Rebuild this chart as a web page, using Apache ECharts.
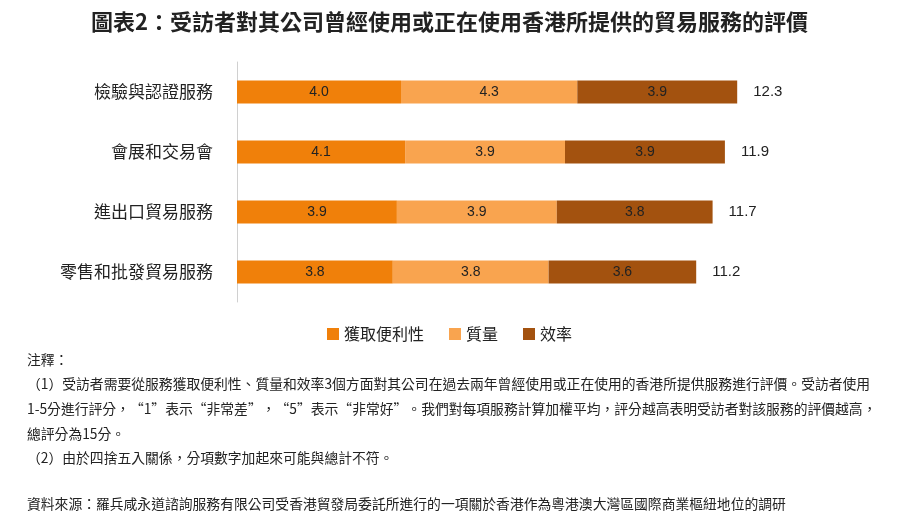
<!DOCTYPE html>
<html><head><meta charset="utf-8">
<script src="https://cdn.jsdelivr.net/npm/echarts@6/dist/echarts.min.js"></script>
<style>html,body{margin:0;background:#fff}#chart{width:899px;height:524px}</style>
</head><body><div id="chart"></div>
<script>
var categories = ['檢驗與認證服務', '會展和交易會', '進出口貿易服務', '零售和批發貿易服務'];
var convenience = [4.0, 4.1, 3.9, 3.8];
var quality = [4.3, 3.9, 3.9, 3.8];
var efficiency = [3.9, 3.9, 3.8, 3.6];
var totals = [12.3, 11.9, 11.7, 11.2];
var seriesNames = ['獲取便利性', '質量', '效率'];
var colors = ['#F0800A', '#F9A44F', '#A3520F'];

var font = '"Noto Sans CJK TC", sans-serif';
var chart = echarts.init(document.getElementById('chart'));

function barSeries(name, data, color) {
  return {
    name: name, type: 'bar', stack: 'total', barWidth: 23,
    itemStyle: { color: color },
    label: { show: true, position: 'inside', color: '#222', fontSize: 14, fontFamily: 'Arial',
             formatter: function (p) { return p.value.toFixed(1); } },
    data: data
  };
}

var noteStyle = { fill: '#222', fontSize: 13.8, fontFamily: font };
chart.setOption({
  animation: false,
  title: { text: '圖表2：受訪者對其公司曾經使用或正在使用香港所提供的貿易服務的評價', left: 'center', top: 6,
           textStyle: { fontSize: 22, fontWeight: 'bold', color: '#222', fontFamily: font } },
  legend: { data: seriesNames, top: 321, left: 'center', itemWidth: 12, itemHeight: 12, itemGap: 25,
            icon: 'rect', textStyle: { fontSize: 16, color: '#222', fontFamily: font } },
  grid: { left: 237, right: 88, top: 62, height: 240 },
  xAxis: { type: 'value', min: 0, max: 14, show: false },
  yAxis: { type: 'category', inverse: true, data: categories,
           axisLine: { show: true, lineStyle: { color: '#d0d0d0' } }, axisTick: { show: false },
           axisLabel: { fontSize: 17, color: '#222', margin: 24, fontFamily: font } },
  series: [
    barSeries(seriesNames[0], convenience, colors[0]),
    barSeries(seriesNames[1], quality, colors[1]),
    barSeries(seriesNames[2], efficiency, colors[2]),
    { name: 'total', type: 'bar', stack: 'total', barWidth: 23, data: totals.map(function () { return 0; }),
      itemStyle: { color: 'transparent' },
      label: { show: true, position: 'right', distance: 16, color: '#222', fontSize: 15, fontFamily: 'Arial',
               formatter: function (p) { return totals[p.dataIndex].toFixed(1); } } }
  ],
  graphic: [
    { type: 'text', left: 27, top: 353, style: Object.assign({ text: '注釋：' }, noteStyle) },
    { type: 'text', left: 27, top: 377, style: Object.assign({ text: '（1）受訪者需要從服務獲取便利性、質量和效率3個方面對其公司在過去兩年曾經使用或正在使用的香港所提供服務進行評價。受訪者使用' }, noteStyle) },
    { type: 'text', left: 27, top: 402, style: Object.assign({ text: '1-5分進行評分，“1”表示“非常差”，“5”表示“非常好”。我們對每項服務計算加權平均，評分越高表明受訪者對該服務的評價越高，' }, noteStyle) },
    { type: 'text', left: 27, top: 427, style: Object.assign({ text: '總評分為15分。' }, noteStyle) },
    { type: 'text', left: 27, top: 451, style: Object.assign({ text: '（2）由於四捨五入關係，分項數字加起來可能與總計不符。' }, noteStyle) },
    { type: 'text', left: 27, top: 497, style: Object.assign({ text: '資料來源：羅兵咸永道諮詢服務有限公司受香港貿發局委託所進行的一項關於香港作為粵港澳大灣區國際商業樞紐地位的調研' }, noteStyle) }
  ]
});
</script></body></html>
